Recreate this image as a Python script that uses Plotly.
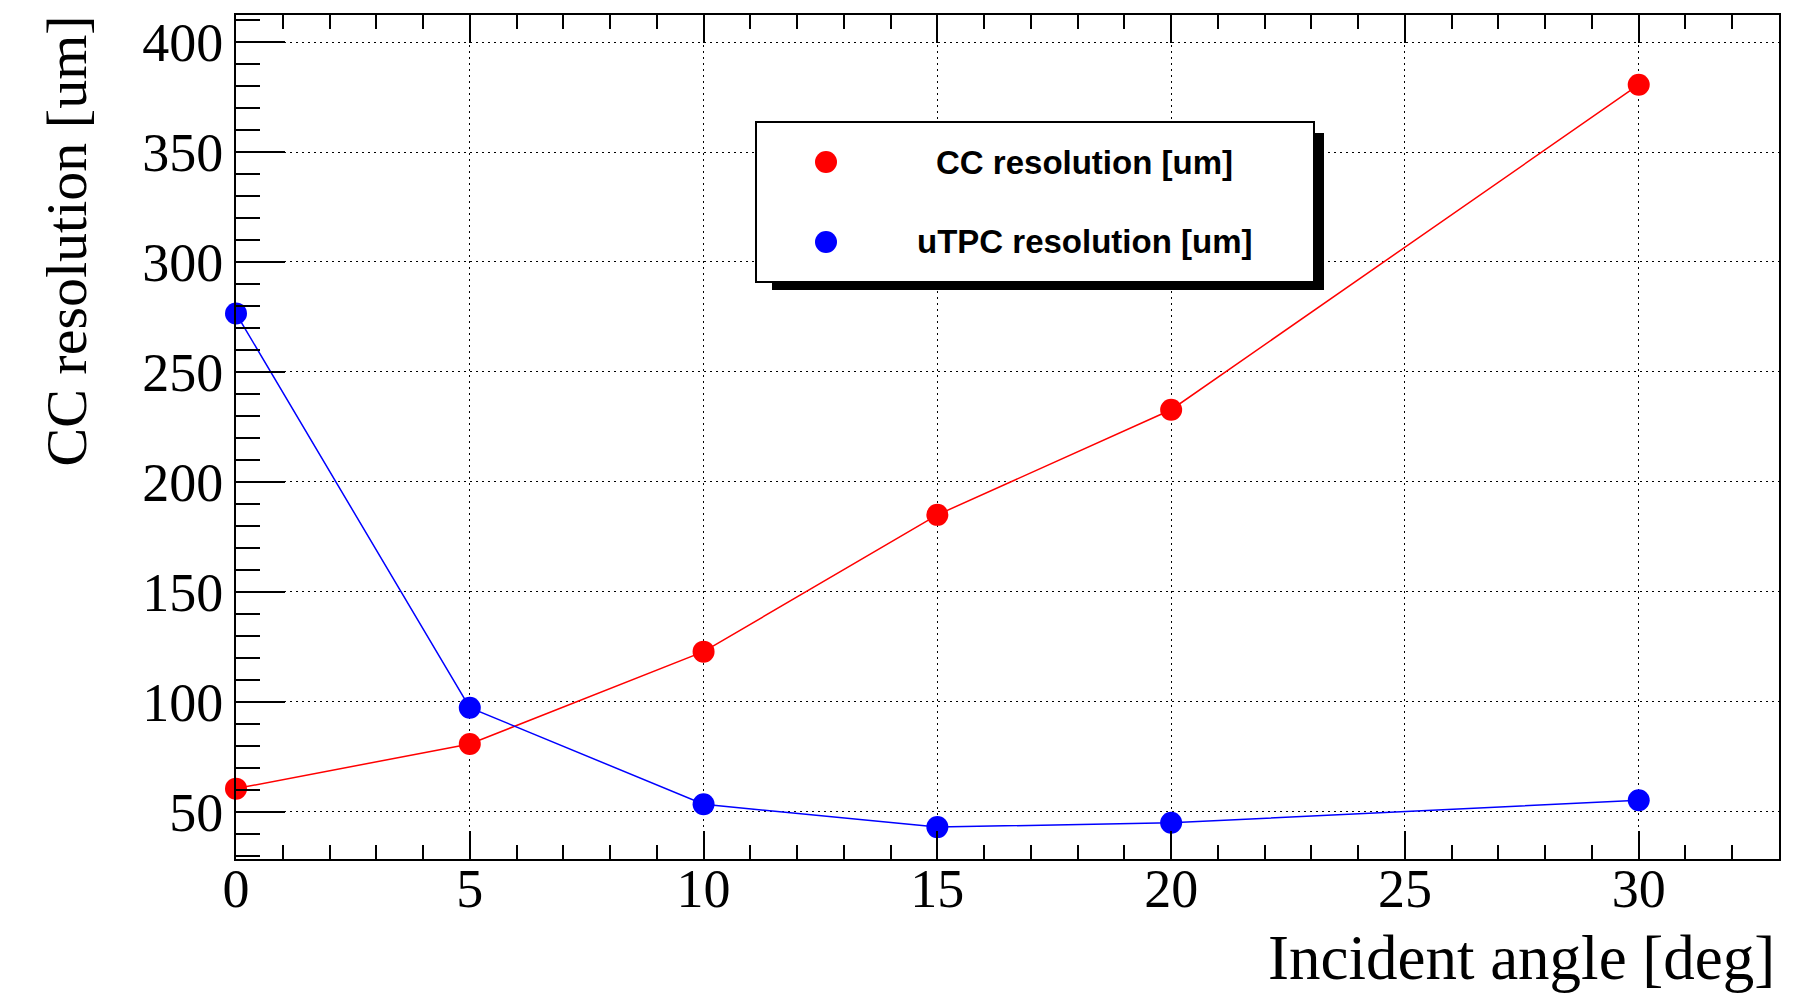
import plotly.graph_objects as go

# ---- data ----
angles = [0, 5, 10, 15, 20, 30]
cc_resolution = [60.5, 80.8, 122.8, 185.0, 232.8, 380.6]
utpc_resolution = [276.6, 97.3, 53.4, 43.0, 45.0, 55.2]
series_names = ["CC resolution [um]", "uTPC resolution [um]"]
x_title = "Incident angle [deg]"
y_title = "CC resolution [um]"

W, H = 1819, 994
L, R, T, B = 236, 1779, 15, 859  # plot frame in pixels

def px(x):
    return (x - L) / (R - L)

def py(y):
    return (B - y) / (B - T)

fig = go.Figure()
fig.add_trace(go.Scatter(x=angles, y=cc_resolution, mode="lines+markers",
                         line=dict(color="#ff0000", width=1.5),
                         marker=dict(color="#ff0000", size=22),
                         name=series_names[0], cliponaxis=False))
fig.add_trace(go.Scatter(x=angles, y=utpc_resolution, mode="lines+markers",
                         line=dict(color="#0000ff", width=1.5),
                         marker=dict(color="#0000ff", size=22),
                         name=series_names[1], cliponaxis=False))

tickfont = dict(family="Liberation Serif", size=54, color="black")

fig.update_layout(
    width=W, height=H,
    margin=dict(l=L, r=W - R, t=T, b=H - B, pad=0),
    paper_bgcolor="white", plot_bgcolor="white",
    showlegend=False,
    xaxis=dict(range=[0, 33], tickmode="linear", tick0=0, dtick=5,
               ticks="inside", ticklen=28, tickwidth=2, tickcolor="black",
               minor=dict(ticks="inside", ticklen=14, tickwidth=2, tickcolor="black", dtick=1),
               showline=True, linecolor="black", linewidth=2, mirror="ticks",
               showgrid=True, gridcolor="black", gridwidth=1, griddash="2px,4px",
               zeroline=False, tickfont=tickfont, ticklabelstandoff=-19),
    yaxis=dict(range=[28.5, 412.3], tickmode="linear", tick0=0, dtick=50,
               ticks="inside", ticklen=49, tickwidth=2, tickcolor="black",
               minor=dict(ticks="inside", ticklen=24, tickwidth=2, tickcolor="black", dtick=10),
               showline=True, linecolor="black", linewidth=2, mirror=True,
               showgrid=True, gridcolor="black", gridwidth=1, griddash="2px,4px",
               zeroline=False, tickfont=tickfont),
)

# axis titles (ROOT style, right/top aligned)
fig.add_annotation(text=x_title, xref="paper", yref="paper",
                   x=px(1777), y=py(958), xanchor="right", yanchor="middle",
                   showarrow=False, font=dict(family="Liberation Serif", size=63, color="black"))
fig.add_annotation(text=y_title, xref="paper", yref="paper",
                   x=px(66), y=py(14), xanchor="center", yanchor="top", textangle=-90,
                   showarrow=False, font=dict(family="Liberation Serif", size=58, color="black"))

# legend box with shadow
fig.add_shape(type="rect", xref="paper", yref="paper",
              x0=px(772), x1=px(1324), y0=py(290), y1=py(133),
              fillcolor="black", line=dict(width=0))
fig.add_shape(type="rect", xref="paper", yref="paper",
              x0=px(756), x1=px(1314), y0=py(282), y1=py(122),
              fillcolor="white", line=dict(color="black", width=2))
colors = ["#ff0000", "#0000ff"]
rows = [162, 242]
for name, col, ry in zip(series_names, colors, rows):
    r = 11
    fig.add_shape(type="circle", xref="paper", yref="paper",
                  x0=px(826 - r), x1=px(826 + r), y0=py(ry + r), y1=py(ry - r),
                  fillcolor=col, line=dict(width=0))
    fig.add_annotation(text="<b>" + name + "</b>", xref="paper", yref="paper",
                       x=px(1084), y=py(ry), xanchor="center", yanchor="middle",
                       showarrow=False, font=dict(family="Liberation Sans", size=33, color="black"))

fig.write_html("out.html", config={"displayModeBar": False},
               post_script="document.body.style.margin='0';document.documentElement.style.overflow='hidden';document.body.style.overflow='hidden';")
